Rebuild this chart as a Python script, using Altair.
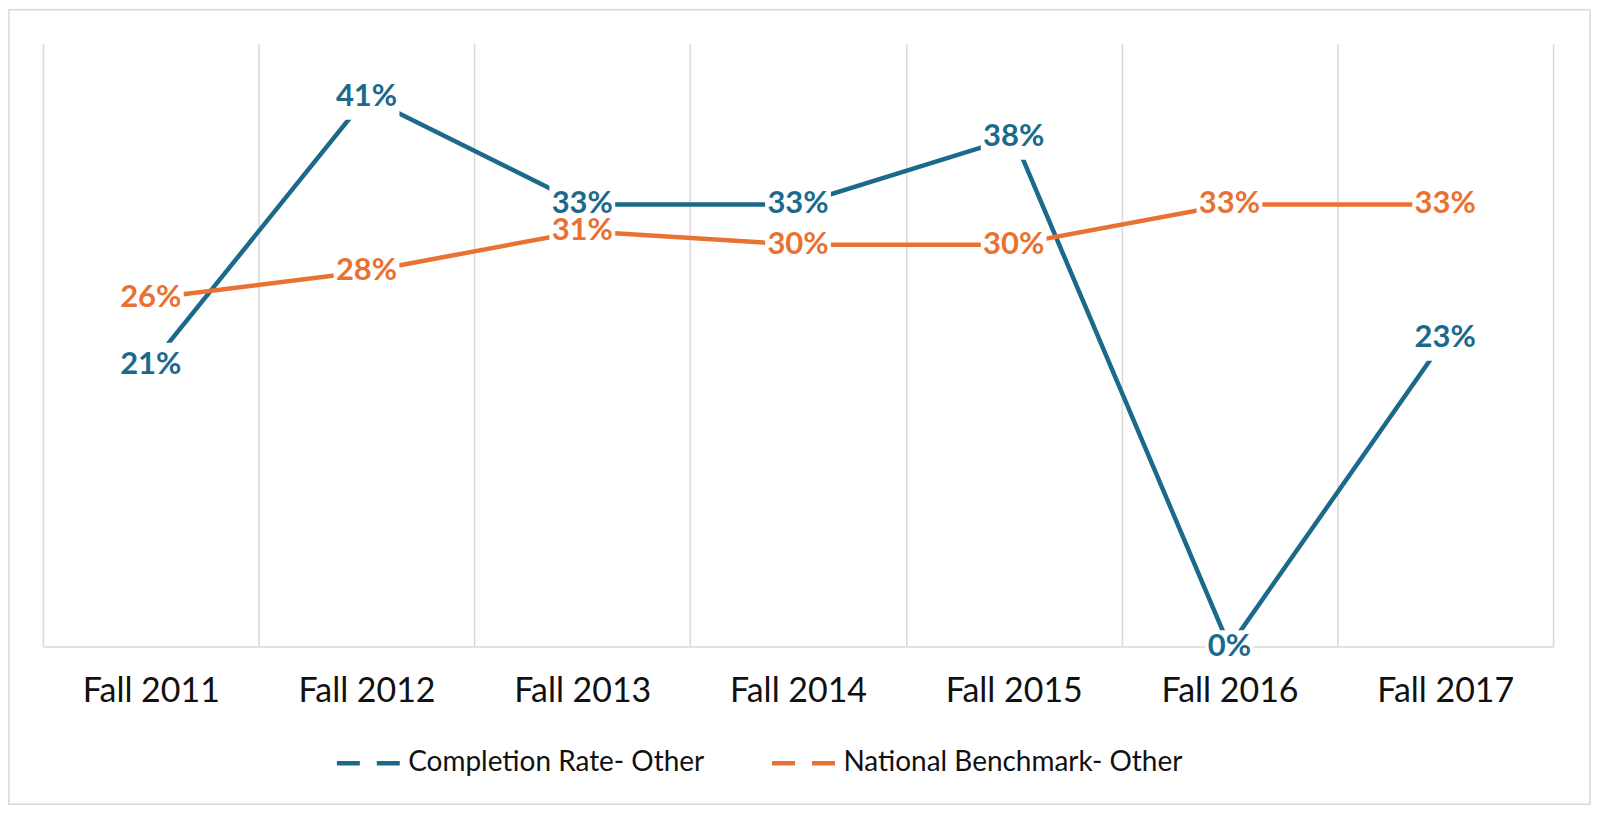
import altair as alt
import pandas as pd

terms = ["Fall 2011", "Fall 2012", "Fall 2013", "Fall 2014", "Fall 2015", "Fall 2016", "Fall 2017"]
completion = [21, 41, 33, 33, 38, 0, 23]
benchmark = [26, 28, 31, 30, 30, 33, 33]
series_names = ["Completion Rate- Other", "National Benchmark- Other"]
colors = ["#1B6A8C", "#E97132"]

rows = []
for s, vals in zip(series_names, [completion, benchmark]):
    for t, v in zip(terms, vals):
        rows.append({"term": t, "value": v, "series": s, "label": f"{v}%"})
df = pd.DataFrame(rows)

W, H = 1513, 604
FONT = "Lato"
LABEL_SIZE = 31

x = alt.X(
    "term:N", sort=terms, bandPosition=0.5,
    scale=alt.Scale(type="band", paddingInner=0, paddingOuter=0),
    axis=alt.Axis(title=None, grid=True, tickBand="extent", ticks=False, labelAngle=0,
                  labelFontSize=34, labelFont=FONT, labelColor="#111111", labelPadding=28,
                  gridColor="#d9d9d9", gridWidth=1.5, domainColor="#d9d9d9", domainWidth=1.5),
)
y = alt.Y("value:Q", scale=alt.Scale(domain=[0, 45]), axis=None)

base = alt.Chart(df)

lines = base.mark_line(strokeWidth=4.5, strokeCap="butt").encode(
    x=x, y=y,
    color=alt.Color("series:N", sort=series_names,
                    scale=alt.Scale(domain=series_names, range=colors),
                    legend=alt.Legend(title=None, orient="none", legendX=292, legendY=687,
                                      direction="horizontal", symbolType="stroke",
                                      symbolStrokeWidth=4.5, symbolSize=3969,
                                      symbolDash=[23, 17], labelFontSize=28, labelFont=FONT,
                                      labelColor="#111111", labelOffset=6, columnPadding=58,
                                      labelLimit=0)),
    order=alt.Order("series:N", sort="descending"),
)

# white label boxes (Excel-style data label background)
boxes = base.transform_calculate(
    boxsize="length(datum.label) < 3 ? 2300 : 4350"
).mark_point(
    shape="M-1,-0.68H1V0.68H-1Z", filled=True, fill="white", opacity=1, strokeWidth=0
).encode(x=x, y=y, size=alt.Size("boxsize:Q", scale=None, legend=None))

texts = []
for s, c in zip(series_names, colors):
    texts.append(
        base.transform_filter(alt.datum.series == s)
        .mark_text(fontSize=LABEL_SIZE, fontWeight="bold", font=FONT, color=c,
                   baseline="middle", align="center")
        .encode(x=x, y=y, text="label:N")
    )

border = alt.Chart(pd.DataFrame({"k": [0]})).mark_rect(
    fillOpacity=0, stroke="#d9d9d9", strokeWidth=1.5
).encode(x=alt.value(-34), x2=alt.value(W + 37), y=alt.value(-34), y2=alt.value(H + 158))

chart = alt.layer(border, lines, boxes, *texts).properties(
    width=W, height=H,
    autosize=alt.AutoSizeParams(type="none"),
    padding={"left": 35, "top": 35, "right": 39, "bottom": 161},
    background="white",
).configure_view(stroke=None)

chart.save("out.html", embed_options={"renderer": "svg", "actions": False})
